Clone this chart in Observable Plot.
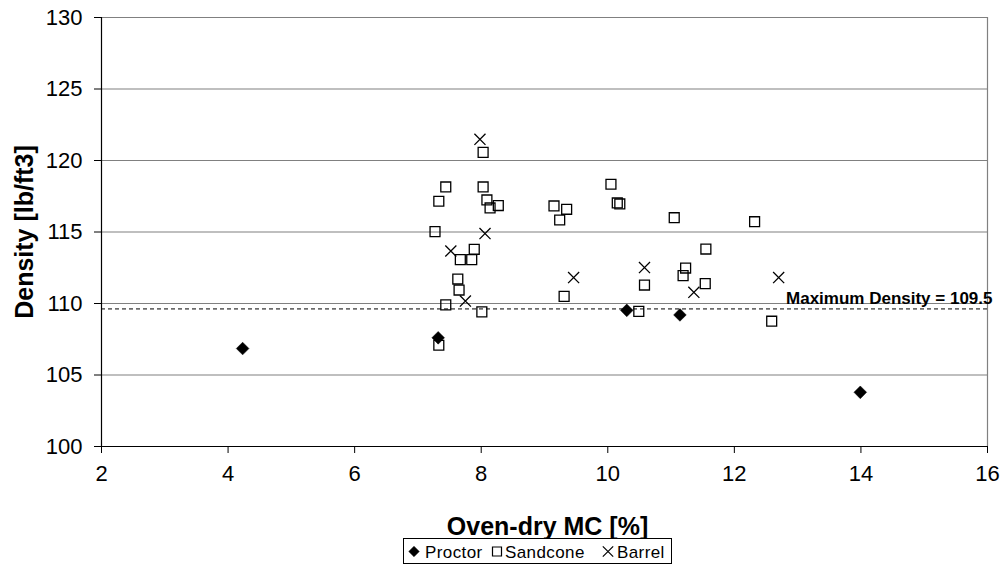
<!DOCTYPE html>
<html>
<head>
<meta charset="utf-8">
<script src="https://cdn.jsdelivr.net/npm/d3@7"></script>
<script src="https://cdn.jsdelivr.net/npm/@observablehq/plot@0.6"></script>
<style>
  html, body { margin: 0; padding: 0; background: #fff; }
  #chart { width: 1005px; }
  #legend { margin-left: 403px; margin-top: 1px; display: block; }
</style>
</head>
<body>
<div id="chart"></div>
<script>
// ---- data ----
const seriesNames = ["Proctor", "Sandcone", "Barrel"];

const proctorX = [4.23, 7.32, 10.30, 11.14, 13.99];
const proctorY = [106.85, 107.60, 109.52, 109.20, 103.79];

const sandconeX = [7.44, 7.33, 8.03, 8.09, 8.14, 8.27, 9.15, 9.35, 9.24, 10.05, 10.15, 10.19,
                   11.05, 7.27, 7.89, 7.67, 7.85, 7.63, 7.65, 7.44, 8.01, 9.31, 10.58, 10.49,
                   11.23, 11.19, 7.33, 8.03, 12.32, 11.55, 11.54, 12.59];
const sandconeY = [118.15, 117.15, 118.15, 117.24, 116.68, 116.85, 116.82, 116.59, 115.84, 118.34, 117.03, 116.96,
                   116.00, 115.03, 113.79, 113.07, 113.07, 111.71, 110.94, 109.90, 109.41, 110.50, 111.29, 109.45,
                   112.48, 111.95, 107.08, 120.57, 115.72, 113.81, 111.39, 108.76];

const barrelX = [7.98, 8.06, 7.52, 7.75, 9.46, 10.58, 11.36, 12.70];
const barrelY = [121.48, 114.89, 113.67, 110.17, 111.81, 112.51, 110.78, 111.81];

const maxDensityLine = 109.62;
const maxDensityLabel = "Maximum Density = 109.5";

const xTicks = [2, 4, 6, 8, 10, 12, 14, 16];
const yTicks = [100, 105, 110, 115, 120, 125, 130];
const xTitle = "Oven-dry MC [%]";
const yTitle = "Density [lb/ft3]";

// ---- tables ----
const toRows = (xs, ys) => xs.map((x, i) => ({x, y: ys[i]}));
const proctor = toRows(proctorX, proctorY);
const sandcone = toRows(sandconeX, sandconeY);
const barrel = toRows(barrelX, barrelY);

const FONT = "'Liberation Sans', Arial, Helvetica, sans-serif";

const chart = Plot.plot({
  width: 1005,
  height: 537,
  marginLeft: 101,
  marginRight: 18,
  marginTop: 17,
  marginBottom: 91,
  x: {domain: [2, 16]},
  y: {domain: [100, 130]},
  style: {fontFamily: FONT, fontSize: "22px", color: "#000", background: "#fff", overflow: "visible"},
  marks: [
    Plot.ruleY(yTicks.filter(d => d > 100), {stroke: "#808080", strokeWidth: 1.2}),
    Plot.ruleX([16], {stroke: "#808080", strokeWidth: 1.2}),
    Plot.ruleY([maxDensityLine], {stroke: "#000", strokeWidth: 1, strokeDasharray: "4,3"}),
    Plot.axisX({ticks: xTicks, tickSize: 7, tickPadding: 12, label: null, fontSize: 22, stroke: "#000"}),
    Plot.axisY({ticks: yTicks, tickSize: 7, tickPadding: 12, label: null, fontSize: 22, stroke: "#000"}),
    Plot.ruleX([2], {stroke: "#000", strokeWidth: 1.2}),
    Plot.ruleY([100], {stroke: "#000", strokeWidth: 1.2}),
    Plot.text([maxDensityLabel], {
      x: 16, y: maxDensityLine, text: d => d, textAnchor: "end", lineAnchor: "bottom",
      dx: 5, dy: -5, fontSize: 17, fontWeight: "bold", fill: "#000", letterSpacing: "0.5px"
    }),
    Plot.dot(sandcone, {x: "x", y: "y", symbol: "square", r: 5.6, fill: "none", stroke: "#000", strokeWidth: 1.3}),
    Plot.dot(barrel, {x: "x", y: "y", symbol: "times", r: 5.1, fill: "none", stroke: "#000", strokeWidth: 1.3}),
    Plot.dot(proctor, {x: "x", y: "y", symbol: "diamond2", r: 5.7, fill: "#000", stroke: "#000", strokeWidth: 0.5}),
    Plot.text([xTitle], {
      frameAnchor: "bottom", text: d => d, dy: 88, dx: 3, lineAnchor: "bottom", textAnchor: "middle",
      fontSize: 25, fontWeight: "bold", fill: "#000", letterSpacing: "1.3px"
    }),
    Plot.text([yTitle], {
      frameAnchor: "left", text: d => d, rotate: -90, dx: -69, lineAnchor: "bottom", textAnchor: "middle",
      fontSize: 25, fontWeight: "bold", fill: "#000", letterSpacing: "1.1px"
    })
  ]
});
document.getElementById("chart").appendChild(chart);

// ---- legend (below the SVG) ----
const lw = 269, lh = 26;
const legend = d3.create("svg")
  .attr("id", "legend")
  .attr("width", lw)
  .attr("height", lh)
  .style("font-family", FONT);
legend.append("rect")
  .attr("x", 0.5).attr("y", 0.5).attr("width", lw - 1).attr("height", lh - 1)
  .attr("fill", "#fff").attr("stroke", "#000").attr("stroke-width", 1);
const items = [
  {name: seriesNames[0], cx: 11, tx: 22, sym: d3.symbolDiamond2, size: 70, fill: "#000", stroke: "#000", sw: 0.5},
  {name: seriesNames[1], cx: 94, tx: 102, sym: d3.symbolSquare, size: 81, fill: "none", stroke: "#000", sw: 1.2},
  {name: seriesNames[2], cx: 205, tx: 214, sym: d3.symbolTimes, size: 72, fill: "none", stroke: "#000", sw: 1.2}
];
for (const it of items) {
  legend.append("path")
    .attr("transform", `translate(${it.cx},${13.5})`)
    .attr("d", d3.symbol(it.sym, it.size)())
    .attr("fill", it.fill).attr("stroke", it.stroke).attr("stroke-width", it.sw);
  legend.append("text")
    .attr("x", it.tx).attr("y", 19.5)
    .attr("font-size", 17).attr("letter-spacing", "0.4px")
    .attr("fill", "#000")
    .text(it.name);
}
document.getElementById("chart").appendChild(legend.node());
</script>
</body>
</html>
